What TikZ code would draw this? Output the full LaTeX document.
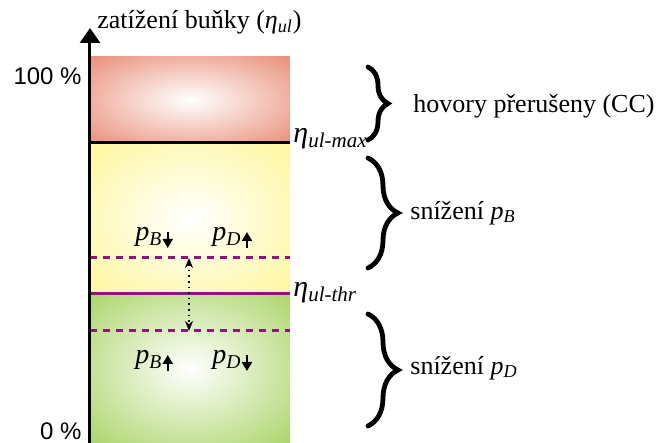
\documentclass[tikz,border=0pt]{standalone}
\usepackage{fontspec}
\setmainfont{Liberation Serif}
\newfontfamily\arialfont{Liberation Sans}
\usetikzlibrary{arrows.meta,positioning,calc,decorations.pathreplacing}
\definecolor{zonered}{RGB}{233,142,120}
\definecolor{zoneyellow}{RGB}{255,247,155}
\definecolor{zonegreen}{RGB}{166,210,96}
\definecolor{zonepurple}{RGB}{140,22,125}
\pgfdeclareradialshading{redglow}{\pgfpoint{0bp}{0bp}}{color(0bp)=(white); color(36bp)=(zonered); color(100bp)=(zonered)}
\pgfdeclareradialshading{yellowglow}{\pgfpoint{0bp}{0bp}}{color(0bp)=(white); color(36bp)=(zoneyellow); color(100bp)=(zoneyellow)}
\pgfdeclareradialshading{greenglow}{\pgfpoint{0bp}{0bp}}{color(0bp)=(white); color(38bp)=(zonegreen); color(100bp)=(zonegreen)}
\newcommand{\etasub}[1]{\textit{η}\textsubscript{\textit{#1}}}
\newcommand{\psub}[1]{\textit{p}\textsubscript{\textit{#1}}}
\begin{document}
\begin{tikzpicture}[x=0.5pt, y=-0.5pt,
    axis/.style={line width=1.5pt, -{Triangle[width=10pt,length=7.5pt]}},
    level/.style={line width=1.5pt},
    band/.style={line width=1.5pt, zonepurple, dash pattern=on 3.5pt off 3pt},
    bracer/.style={decorate, decoration={brace, amplitude=#1}, line width=2.4pt, line cap=round},
    plabel/.style={font=\fontsize{14}{16}\selectfont, inner sep=0pt, anchor=base west},
    etalabel/.style={font=\fontsize{15}{17}\selectfont, inner sep=0pt, anchor=west},
    zonetext/.style={font=\fontsize{13}{15}\selectfont, inner sep=0pt, anchor=west},
    pct/.style={font=\arialfont\fontsize{12}{14}\selectfont, inner sep=0pt, anchor=east},
    smallarr/.style={line width=1pt, -{Triangle[width=5pt,length=4.5pt]}},
    gaparr/.style={line width=0.8pt, dotted, {Stealth[width=4pt,length=5pt]}-{Stealth[width=4pt,length=5pt]}}
  ]
  \useasboundingbox (0,0) rectangle (661,443);

  % load zones
  \shade[shading=redglow] (90,57) rectangle (290,143);
  \shade[shading=yellowglow] (90,143) rectangle (290,294);
  \shade[shading=greenglow] (90,294) rectangle (290,443);

  % thresholds
  \draw[level] (90,143) -- (290,143);
  \draw[level, zonepurple] (90,294) -- (290,294);
  \draw[band] (90,258) -- (290,258);
  \draw[band] (90,331) -- (290,331);
  \coordinate (hiB) at (189,258);
  \coordinate (loB) at (189,331);
  \draw[gaparr] (hiB) -- (loB);

  % axis
  \draw[axis] (90,443) -- (90,28);
  \node[zonetext] (title) at (97,22) {zatížení buňky (\etasub{ul})};
  \node[pct] (top) at (82,76) {100 \%};
  \node[pct] (bot) at (82,431) {0 \%};

  \node[etalabel] (etamax) at (293,139) {\etasub{ul-max}};
  \node[etalabel] (etathr) at (293,293) {\etasub{ul-thr}};

  % p labels
  \node[plabel] (pbA) at (135,241) {\psub{B}};
  \node[plabel] (pdA) at (212,241) {\psub{D}};
  \node[plabel] (pbB) at (135,364) {\psub{B}};
  \node[plabel] (pdB) at (212,364) {\psub{D}};
  \draw[smallarr] ($(pbA.base east)+(5,-9)$) -- ++(0,16);
  \draw[smallarr] ($(pdA.base east)+(5,7)$) -- ++(0,-16);
  \draw[smallarr] ($(pbB.base east)+(5,7)$) -- ++(0,-16);
  \draw[smallarr] ($(pdB.base east)+(5,-9)$) -- ++(0,16);

  % braces
  \draw[bracer=10pt] (368,67) -- (368,140);
  \draw[bracer=15pt] (368,158) -- (368,268);
  \draw[bracer=15pt] (368,314) -- (368,426);
  \node[zonetext] (cc) at (413,106) {hovory přerušeny (CC)};
  \node[zonetext] (redB) at (410,213) {snížení \psub{B}};
  \node[zonetext] (redD) at (410,368) {snížení \psub{D}};
\end{tikzpicture}
\end{document}
